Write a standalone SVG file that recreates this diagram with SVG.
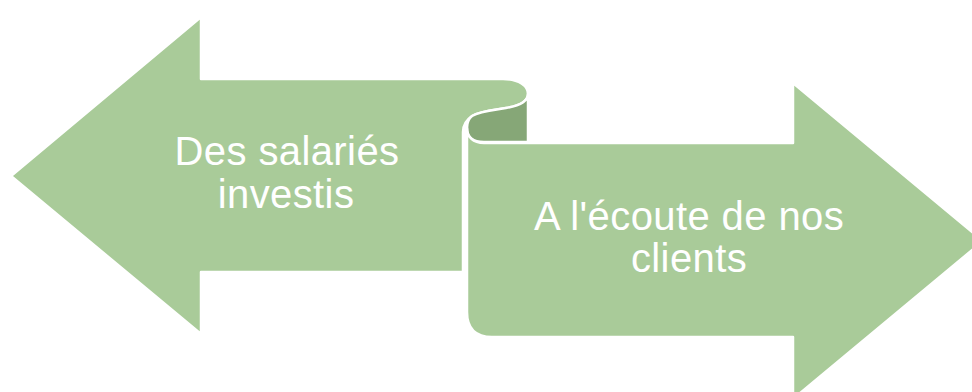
<svg xmlns="http://www.w3.org/2000/svg" width="972" height="392" viewBox="0 0 972 392">
<style>
.light{fill:#A9CB99;stroke:#FFFFFF;stroke-width:2.5;stroke-linejoin:round}
.dark{fill:#86A777;stroke:#FFFFFF;stroke-width:2.5;stroke-linejoin:round}
.lbl{font-family:"Liberation Sans",Arial,sans-serif;font-size:40px;letter-spacing:0.4px;fill:#FFFFFF;text-anchor:middle}
</style>
<rect width="972" height="392" fill="#FFFFFF"/>
<g id="node-left">
<path class="light" d="M11,176 L201,17 L201,79 L503,79 C519,79 528,86 528,94 C528,102 518,106 506,108 C494,110 480,111 472,116 C466,120 463,125 463,132 L463,272 L201,272 L201,334 Z"/>
<text class="lbl" x="287" y="165">Des salariés</text>
<text class="lbl" x="286" y="208">investis</text>
</g>
<g id="node-curl">
<path class="dark" d="M528,94 C528,102 518,106 506,108 C494,110 480,111 472,116 C468,119 467,124 467,128 C467,137 473,142 484,142 L528,142 Z"/>
</g>
<g id="node-right">
<path class="light" d="M484,143 L793,143 L793,83 L983,241 L793,399 L793,337 L492,337 Q467,337 467,312 L467,128 C467,137 473,143 484,143 Z"/>
<text class="lbl" x="689" y="230">A l'écoute de nos</text>
<text class="lbl" x="689" y="272">clients</text>
</g>
<g id="connectors"></g>
</svg>
